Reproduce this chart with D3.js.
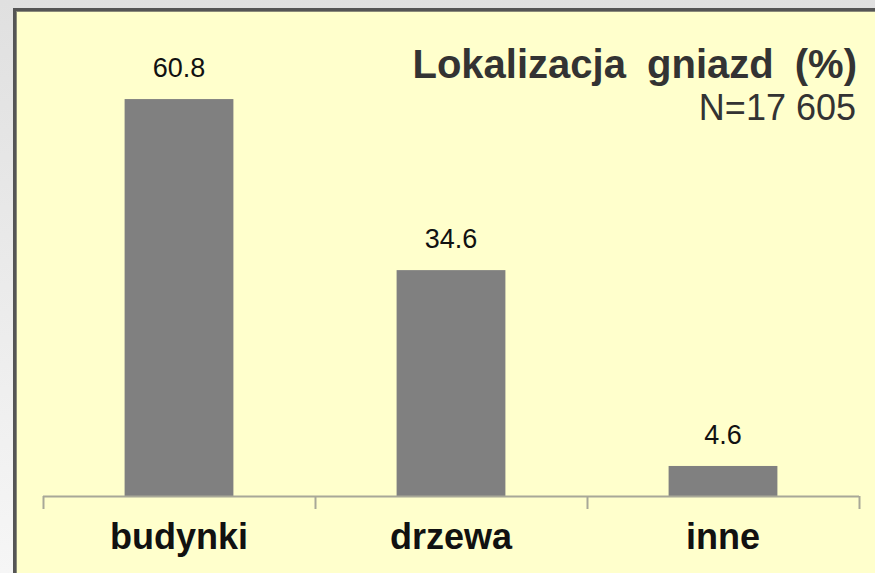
<!DOCTYPE html>
<html><head><meta charset="utf-8">
<script src="https://cdn.jsdelivr.net/npm/d3@7/dist/d3.min.js"></script>
<style>html,body{margin:0;padding:0;overflow:hidden;}</style>
</head><body>
<script>
const categories = ["budynki", "drzewa", "inne"];
const values = [60.8, 34.6, 4.6];
const valueLabels = ["60.8", "34.6", "4.6"];
const title = "Lokalizacja gniazd (%)";
const subtitle = "N=17 605";

const W = 875, H = 573;
const FONT = "Liberation Sans, Arial, sans-serif";
const svg = d3.select("body").append("svg").attr("width", W).attr("height", H);
const defs = svg.append("defs");
const grad = defs.append("linearGradient").attr("id","bg").attr("x1",0).attr("y1",0).attr("x2",0).attr("y2",1);
grad.append("stop").attr("offset","0%").attr("stop-color","#e0e0e0");
grad.append("stop").attr("offset","100%").attr("stop-color","#f6f6f6");
svg.append("rect").attr("width",W).attr("height",H).attr("fill","url(#bg)");

// panel
svg.append("rect").attr("x",14.5).attr("y",9.5).attr("width",W).attr("height",H)
  .attr("fill","#ffffcc").attr("stroke","#555555").attr("stroke-width",3);
svg.append("line").attr("x1",16.5).attr("x2",16.5).attr("y1",11).attr("y2",H).attr("stroke","#8a8a7a").attr("stroke-width",1);
svg.append("line").attr("x1",16).attr("x2",W).attr("y1",11.5).attr("y2",11.5).attr("stroke","#8a8a7a").attr("stroke-width",1);

const x = d3.scaleBand().domain(categories).range([43, 859]).paddingInner(0.6).paddingOuter(0.3);
const y = d3.scaleLinear().domain([0, 70]).range([496, 39]);

const g = svg.append("g");
g.selectAll("rect.bar").data(values).join("rect").attr("class","bar")
  .attr("x",(d,i)=>x(categories[i])).attr("width",x.bandwidth())
  .attr("y",d=>y(d)).attr("height",d=>y(0)-y(d)).attr("fill","#808080");

g.selectAll("text.val").data(values).join("text").attr("class","val")
  .attr("x",(d,i)=>x(categories[i])+x.bandwidth()/2).attr("y",d=>y(d)-22)
  .attr("text-anchor","middle").attr("font-family",FONT)
  .attr("font-size",27).attr("fill","#111").text((d,i)=>valueLabels[i]);

// axis
const edges = d3.range(categories.length+1).map(i => 43 + i*(816/categories.length));
svg.append("line").attr("x1",43).attr("x2",859).attr("y1",496.5).attr("y2",496.5).attr("stroke","#a8a898").attr("stroke-width",2);
svg.selectAll("line.tick").data(edges).join("line").attr("class","tick")
  .attr("x1",d=>Math.round(d)+0.5).attr("x2",d=>Math.round(d)+0.5).attr("y1",496).attr("y2",509)
  .attr("stroke","#a8a898").attr("stroke-width",2);

svg.selectAll("text.cat").data(categories).join("text").attr("class","cat")
  .attr("x",d=>x(d)+x.bandwidth()/2).attr("y",549).attr("text-anchor","middle")
  .attr("font-family",FONT).attr("font-weight","bold")
  .attr("font-size",36).attr("fill","#111").text(d=>d);

svg.append("text").attr("x",857).attr("y",78).attr("text-anchor","end")
  .attr("font-family",FONT).attr("font-weight","bold").attr("word-spacing",10)
  .attr("font-size",40).attr("fill","#333").text(title);
svg.append("text").attr("x",856).attr("y",120).attr("text-anchor","end")
  .attr("font-family",FONT)
  .attr("font-size",36).attr("fill","#333").text(subtitle);
</script>
</body></html>
